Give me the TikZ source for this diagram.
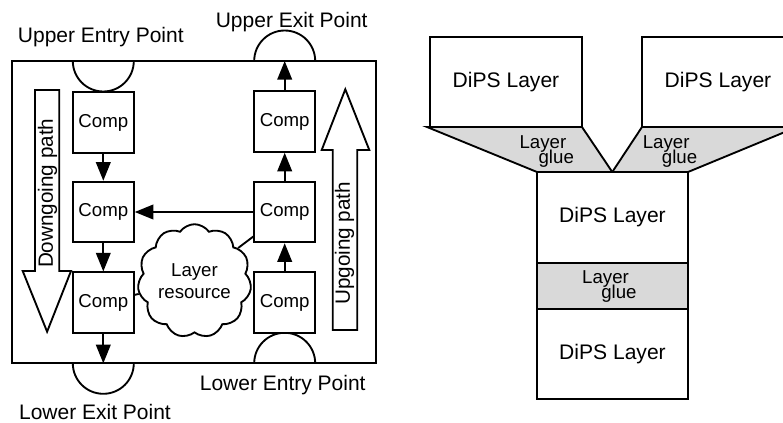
\documentclass[tikz,border=0pt]{standalone}
\usepackage{fontspec}
\setmainfont{Liberation Sans}
\usetikzlibrary{arrows.meta,shapes.symbols}
% tight two-line labels for the glue areas
\newcommand\gluefont{\fontsize{14}{11.25}\selectfont\lineskiplimit=-100pt\relax}
\begin{document}
\begin{tikzpicture}[x=0.75pt,y=-0.75pt,
  line width=1.4pt,
  comp/.style={draw,fill=white,minimum width=45.75pt,minimum height=45.5pt,inner sep=0pt,
    font=\fontsize{14}{16}\selectfont},
  arr/.style={-{Triangle[length=14pt,width=11pt]}},
  lbl/.style={font=\fontsize{15.75}{18}\selectfont,inner sep=0pt,anchor=base},
  pathtxt/.style={rotate=90,font=\fontsize{15.5}{18}\selectfont,inner sep=0pt},
  layerbox/.style={draw,fill=white,inner sep=0pt,minimum width=151*0.75pt,
    font=\fontsize{15.8}{18}\selectfont},
  gluebox/.style={draw,fill=gray!30},
  gluetxt/.style={font=\gluefont,inner sep=0pt,align=left,anchor=north west},
  ]
\useasboundingbox (0,0) rectangle (783,422);
\clip (0,0) rectangle (783,422);

% ---------- layer with its entry and exit points ----------
\draw (12.3,61) rectangle (375.7,363.3);
\coordinate (uentry) at (103.3,61);
\coordinate (uexit)  at (284.7,61);
\coordinate (lentry) at (284.7,363.3);
\coordinate (lexit)  at (103.3,363.3);
\draw (72.8,61) arc[start angle=180,end angle=0,radius=30.5];
\draw (254.2,61) arc[start angle=180,end angle=360,radius=30.5];
\draw (254.2,363.3) arc[start angle=180,end angle=360,radius=30.5];
\draw (72.8,363.3) arc[start angle=180,end angle=0,radius=30.5];

\node[lbl] (uentrylbl) at (100.8,42.7) {Upper Entry Point};
\node[lbl] (uexitlbl)  at (291.7,27.3) {Upper Exit Point};
\node[lbl] (lentrylbl) at (282.7,390)  {Lower Entry Point};
\node[lbl] (lexitlbl)  at (95,419)     {Lower Exit Point};

% components
\node[comp] (l1) at (103.3,122.5) {Comp};
\node[comp] (l2) at (103.3,212)   {Comp};
\node[comp] (l3) at (103.3,302.7) {Comp};
\node[comp] (r1) at (284.7,121.5) {Comp};
\node[comp] (r2) at (284.7,212)   {Comp};
\node[comp] (r3) at (284.7,302.7) {Comp};

\draw[arr] (l1) -- (l2);
\draw[arr] (l2) -- (l3);
\draw[arr] (l3) -- (lexit);
\draw[arr] (r3) -- (r2);
\draw[arr] (r2) -- (r1);
\draw[arr] (r1) -- (uexit);
\draw[arr] (r2) -- (l2);

% shared resource
\node[cloud,draw,fill=white,cloud puffs=11,cloud puff arc=110,
  minimum width=72.75pt,minimum height=54pt,inner sep=0pt,align=center,
  font=\fontsize{14}{16.5}\selectfont] (res) at (194.5,281) {Layer\\resource};
\draw (res) -- (r2.218);
\draw (l3.14) -- (res);

% direction arrows
\draw[fill=white] (35,90) -- (59.3,90) -- (59.3,271) -- (71,271) -- (47.1,331.7)
  -- (22.7,271) -- (35,271) -- cycle;
\node[pathtxt] (down) at (47.5,193.3) {Downgoing path};
\draw[fill=white] (332.7,330) -- (357.3,330) -- (357.3,150) -- (369.3,150)
  -- (345.3,89.3) -- (321.7,150) -- (332.7,150) -- cycle;
\node[pathtxt] (up) at (344.5,243.3) {Upgoing path};

% ---------- stacking of DiPS layers ----------
\filldraw[gluebox] (427,127) -- (582,127) -- (612.3,172) -- (537,172) -- cycle;
\filldraw[gluebox] (642,127) -- (797,127) -- (688,172) -- (612.3,172) -- cycle;

\node[layerbox,minimum width=152*0.75pt,minimum height=90*0.75pt] (d1) at (506,82) {DiPS Layer};
\node[layerbox,minimum width=152*0.75pt,minimum height=90*0.75pt] (d2) at (718,82) {DiPS Layer};
\node[layerbox,minimum height=91*0.75pt] (d3) at (612.5,217.5) {DiPS Layer};
\node[layerbox,gluebox,minimum height=46*0.75pt] (g3) at (612.5,286) {};
\node[layerbox,minimum height=90*0.75pt] (d4) at (612.5,354) {DiPS Layer};

\node[gluetxt] (g1) at (518.6,135) {Layer\\\hspace*{14.3pt}glue};
\node[gluetxt] (g2) at (641.9,135) {Layer\\\hspace*{14.3pt}glue};
\node[gluetxt] (g3t) at (581.3,269.3) {Layer\\\hspace*{14.3pt}glue};
\end{tikzpicture}
\end{document}
